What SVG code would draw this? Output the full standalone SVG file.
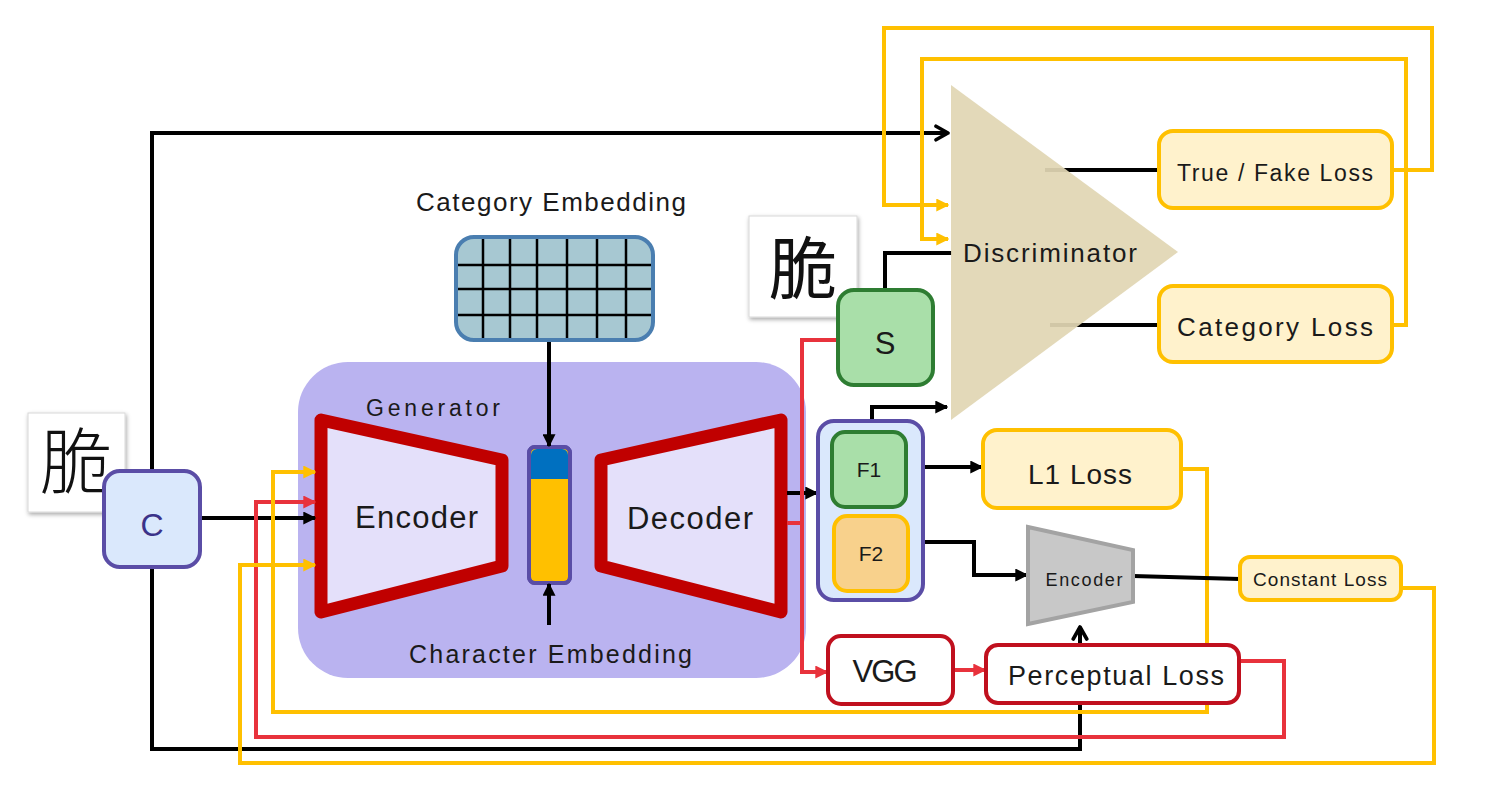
<svg xmlns="http://www.w3.org/2000/svg" width="1502" height="788" viewBox="0 0 1502 788">
<defs>
<style>
.t{font-family:"Liberation Sans","DejaVu Sans",sans-serif;fill:#1a1a1a;}
.cjk{font-family:"Noto Sans CJK SC","Noto Sans CJK JP",sans-serif;fill:#111;}
.blk{fill:none;stroke:#000;stroke-width:4;stroke-linejoin:miter;}
.red{fill:none;stroke:#E8323C;stroke-width:4;}
.yel{fill:none;stroke:#FFC000;stroke-width:4;}
.loss{fill:#FFF2CC;stroke:#FFC000;stroke-width:4;}
.prc{fill:#FFFFFF;stroke:#C0101E;stroke-width:4;}
.grn{fill:#A9DFA9;stroke:#2E7D32;stroke-width:4;}
.pur{fill:#DAE8FC;stroke:#5A4DA6;stroke-width:4;}
.coder{fill:#E4E0FA;stroke:#C00000;stroke-width:13;stroke-linejoin:round;}
.grid{stroke:#000;stroke-width:2.5;}
</style>
<marker id="ab" viewBox="0 0 10 10" refX="9" refY="5" markerWidth="13" markerHeight="13" markerUnits="userSpaceOnUse" orient="auto">
<path d="M0,0 L10,5 L0,10 z" fill="#000"/>
</marker>
<marker id="ao" viewBox="0 0 12 12" refX="10" refY="6" markerWidth="18" markerHeight="18" markerUnits="userSpaceOnUse" orient="auto">
<path d="M2,1.5 L10,6 L2,10.5" fill="none" stroke="#000" stroke-width="2.4" stroke-linecap="round" stroke-linejoin="round"/>
</marker>
<marker id="ar" viewBox="0 0 10 10" refX="9" refY="5" markerWidth="13" markerHeight="13" markerUnits="userSpaceOnUse" orient="auto">
<path d="M0,0 L10,5 L0,10 z" fill="#E8323C"/>
</marker>
<marker id="ay" viewBox="0 0 10 10" refX="9" refY="5" markerWidth="13" markerHeight="13" markerUnits="userSpaceOnUse" orient="auto">
<path d="M0,0 L10,5 L0,10 z" fill="#FFC000"/>
</marker>
<filter id="sh" x="-20%" y="-20%" width="140%" height="140%">
<feDropShadow dx="1" dy="2" stdDeviation="2" flood-color="#000" flood-opacity="0.35"/>
</filter>
</defs>
<rect width="1502" height="788" fill="#FFFFFF"/>

<g id="generator">
<rect x="298" y="362" width="508" height="316" rx="50" fill="#BAB3F0"/>
<text class="t" x="366" y="416" font-size="23" textLength="134">Generator</text>
<polygon class="coder" points="321,420 502,460 502,566 321,612"/>
<text class="t" x="355" y="528" font-size="31" textLength="123">Encoder</text>
<polygon class="coder" points="601,460 781,420 781,612 601,566"/>
<text class="t" x="627" y="529" font-size="31" textLength="126">Decoder</text>
<g id="latent">
<rect x="529" y="447" width="41" height="136" rx="6" fill="#FFC000" stroke="#5A4DA6" stroke-width="4"/>
<path d="M531,479 V455 a6,6 0 0 1 6,-6 H562 a6,6 0 0 1 6,6 V479 z" fill="#0070C0"/>
<rect x="529" y="447" width="41" height="136" rx="6" fill="none" stroke="#5A4DA6" stroke-width="4"/>
</g>
<text class="t" x="409" y="663" font-size="25" textLength="283">Character Embedding</text>
</g>

<g id="connectors">
<path class="blk" d="M152,470 V133 H948" marker-end="url(#ao)"/>
<path class="blk" d="M200,518 H315" marker-end="url(#ab)"/>
<path class="blk" d="M152,568 V749 H1080 V627" marker-end="url(#ao)"/>
<path class="blk" d="M549,341 V446" marker-end="url(#ab)"/>
<path class="blk" d="M549,625 V584" marker-end="url(#ab)"/>
<path class="blk" d="M787,493 H817" marker-end="url(#ab)"/>
<path class="blk" d="M872,421 V407 H947" marker-end="url(#ab)"/>
<path class="blk" d="M885,289 V253 H952"/>
<path class="blk" d="M906,467 H982" marker-end="url(#ab)"/>
<path class="blk" d="M923,542 H974 V575 H1027" marker-end="url(#ab)"/>
<path class="blk" d="M1045,170 H1160"/>
<path class="blk" d="M1050,325 H1160"/>
<path class="red" d="M838,340 H802 V672 H827" marker-end="url(#ar)"/>
<path class="red" d="M787,523 H802"/>
<path class="red" d="M953,670 H985" marker-end="url(#ar)"/>
<path class="red" d="M1240,661 H1284 V737 H256 V502 H315" marker-end="url(#ar)"/>
<path class="yel" d="M1182,469 H1207 V712 H273 V472 H315" marker-end="url(#ay)"/>
<path class="yel" d="M1402,588 H1434 V763 H240 V565 H315" marker-end="url(#ay)"/>
<path class="yel" d="M1392,170 H1432 V28 H884 V205 H948" marker-end="url(#ay)"/>
<path class="yel" d="M1392,325 H1406 V59 H922 V239 H948" marker-end="url(#ay)"/>
<path class="blk" d="M1133,576 L1240,579"/>
</g>

<g id="category-embedding">
<text class="t" x="416" y="211" font-size="26" textLength="270">Category Embedding</text>
<rect x="456" y="237" width="197" height="103" rx="18" fill="#A7C8D2" stroke="#4A7EB0" stroke-width="4"/>
<g class="grid">
<line x1="483" y1="239" x2="483" y2="338"/>
<line x1="510" y1="239" x2="510" y2="338"/>
<line x1="537" y1="239" x2="537" y2="338"/>
<line x1="567" y1="239" x2="567" y2="338"/>
<line x1="597" y1="239" x2="597" y2="338"/>
<line x1="626" y1="239" x2="626" y2="338"/>
<line x1="458" y1="265" x2="651" y2="265"/>
<line x1="458" y1="289" x2="651" y2="289"/>
<line x1="458" y1="315" x2="651" y2="315"/>
</g>
</g>

<g id="source-char">
<rect x="28" y="413" width="97" height="99" fill="#FFFFFF" stroke="#D8D8D8" stroke-width="1" filter="url(#sh)"/>
<text class="cjk" x="76" y="488" font-size="72" font-weight="300" text-anchor="middle">脆</text>
</g>
<g id="node-c">
<rect x="104" y="471" width="96" height="96" rx="16" class="pur"/>
<text class="t" x="152" y="536" font-size="32" text-anchor="middle" style="fill:#3B3289">C</text>
</g>

<g id="discriminator">
<polygon points="951,85 1178,252 951,420" fill="#E1D6B4" opacity="0.93"/>
<text class="t" x="963" y="262" font-size="26" textLength="174">Discriminator</text>
</g>

<g id="true-fake-loss">
<rect x="1159" y="131" width="233" height="77" rx="14" class="loss"/>
<text class="t" x="1275" y="181" font-size="23" text-anchor="middle" textLength="196">True / Fake Loss</text>
</g>
<g id="category-loss">
<rect x="1159" y="286" width="233" height="76" rx="14" class="loss"/>
<text class="t" x="1275" y="336" font-size="26" text-anchor="middle" textLength="196">Category Loss</text>
</g>

<g id="target-char">
<rect x="749" y="216" width="108" height="101" fill="#FFFFFF" stroke="#D8D8D8" stroke-width="1" filter="url(#sh)"/>
<text class="cjk" x="803" y="294" font-size="68" font-weight="400" text-anchor="middle">脆</text>
</g>
<g id="node-s">
<rect x="838" y="290" width="95" height="95" rx="16" class="grn"/>
<text class="t" x="885" y="354" font-size="31" text-anchor="middle">S</text>
</g>

<g id="fake-pair">
<rect x="818" y="421" width="105" height="179" rx="16" class="pur"/>
<g id="node-f1">
<rect x="832" y="432" width="74" height="75" rx="13" class="grn"/>
<text class="t" x="869" y="477" font-size="21" text-anchor="middle">F1</text>
</g>
<g id="node-f2">
<rect x="834" y="516" width="74" height="75" rx="13" fill="#F8D18C" stroke="#FFC000" stroke-width="4"/>
<text class="t" x="871" y="561" font-size="21" text-anchor="middle">F2</text>
</g>
</g>

<g id="l1-loss">
<rect x="983" y="430" width="198" height="78" rx="14" class="loss"/>
<text class="t" x="1080" y="484" font-size="28" text-anchor="middle" textLength="104">L1 Loss</text>
</g>

<g id="small-encoder">
<polygon points="1028,527 1133,550 1133,602 1028,624" fill="#C8C8C8" stroke="#A3A3A3" stroke-width="4"/>
<text class="t" x="1084" y="586" font-size="18" text-anchor="middle" textLength="77">Encoder</text>
</g>

<g id="constant-loss">
<rect x="1240" y="557" width="161" height="43" rx="10" class="loss"/>
<text class="t" x="1320" y="586" font-size="19" text-anchor="middle" textLength="134">Constant Loss</text>
</g>

<g id="vgg">
<rect x="828" y="636" width="125" height="68" rx="13" class="prc"/>
<text class="t" x="885" y="682" font-size="31" text-anchor="middle" textLength="65">VGG</text>
</g>

<g id="perceptual-loss">
<rect x="986" y="645" width="253" height="58" rx="12" class="prc"/>
<text class="t" x="1116" y="685" font-size="27" text-anchor="middle" textLength="216">Perceptual Loss</text>
</g>
</svg>
